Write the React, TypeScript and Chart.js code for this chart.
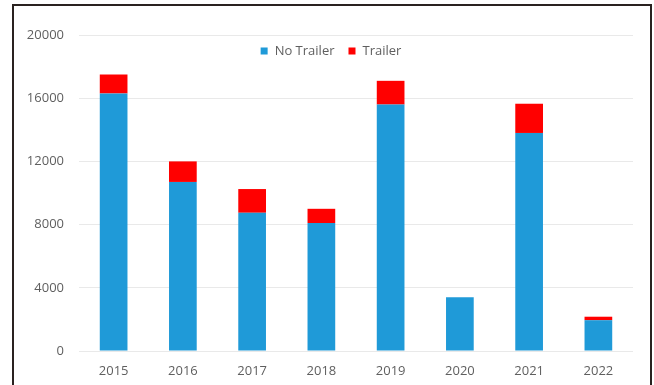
import React, { useEffect, useRef } from "react";
import { Chart, registerables } from "chart.js";

Chart.register(...registerables);

const categories = ["2015", "2016", "2017", "2018", "2019", "2020", "2021", "2022"];
const noTrailer = [16300, 10700, 8750, 8100, 15600, 3400, 13800, 1950];
const trailer = [1200, 1300, 1500, 900, 1500, 0, 1850, 220];
const seriesNames = ["No Trailer", "Trailer"];
const seriesColors = ["#1f9ad8", "#ff0000"];
const yMax = 20000;
const yStep = 4000;

const FONT = "'Open Sans', sans-serif";
const TEXT = "#5f5f5f";

const legendPlugin = {
  id: "customLegend",
  afterDraw(chart: any) {
    const ctx = chart.ctx;
    const ds = chart.data.datasets;
    ctx.save();
    ctx.font = `13px ${FONT}`;
    ctx.textBaseline = "middle";
    const box = 7, gap = 7, spacing = 14;
    const widths = ds.map((d: any) => box + gap + ctx.measureText(d.label).width);
    const total = widths.reduce((a: number, b: number) => a + b, 0) + spacing * (ds.length - 1);
    let x = 331 - total / 2;
    const y = 51;
    ds.forEach((d: any, i: number) => {
      ctx.fillStyle = d.backgroundColor;
      ctx.fillRect(x, y - box / 2, box, box);
      ctx.fillStyle = TEXT;
      ctx.textAlign = "left";
      ctx.fillText(d.label, x + box + gap, y);
      x += widths[i] + spacing;
    });
    ctx.restore();
  },
};

export default function App() {
  const ref = useRef<HTMLCanvasElement>(null);
  useEffect(() => {
    if (!ref.current) return;
    const chart = new Chart(ref.current, {
      type: "bar",
      data: {
        labels: categories,
        datasets: [
          { label: seriesNames[0], data: noTrailer, backgroundColor: seriesColors[0] },
          { label: seriesNames[1], data: trailer, backgroundColor: seriesColors[1] },
        ],
      },
      options: {
        animation: false,
        responsive: false,
        maintainAspectRatio: false,
        layout: { padding: { left: 14, right: 21, top: 35, bottom: 0 } },
        datasets: { bar: { categoryPercentage: 1, barPercentage: 0.4 } },
        plugins: { legend: { display: false }, tooltip: { enabled: false } },
        scales: {
          x: {
            stacked: true,
            grid: { display: false, drawTicks: false },
            border: { display: false },
            ticks: { color: TEXT, font: { family: FONT, size: 13 }, padding: 12, maxRotation: 0 },
            afterFit: (s: any) => { s.height = 34; },
          },
          y: {
            stacked: true,
            min: 0,
            max: yMax,
            grid: { color: "#e9e9e9", lineWidth: 1, drawTicks: false },
            border: { display: false },
            ticks: {
              stepSize: yStep,
              color: TEXT,
              font: { family: FONT, size: 13 },
              padding: 15,
              callback: (v: any) => String(v),
            },
            afterFit: (s: any) => { s.width = 65; },
          },
        },
      },
      plugins: [legendPlugin],
    });
    return () => chart.destroy();
  }, []);

  return (
    <div style={{ position: "fixed", left: 0, top: 0, width: 654, height: 385, background: "#fff", overflow: "hidden" }}>
      <canvas ref={ref} width={654} height={385} style={{ position: "absolute", left: 0, top: 0, width: 654, height: 385 }} />
      <div style={{ position: "absolute", left: 12, top: 4, width: 636, height: 420, border: "2px solid #2a2220", pointerEvents: "none" }} />
    </div>
  );
}
